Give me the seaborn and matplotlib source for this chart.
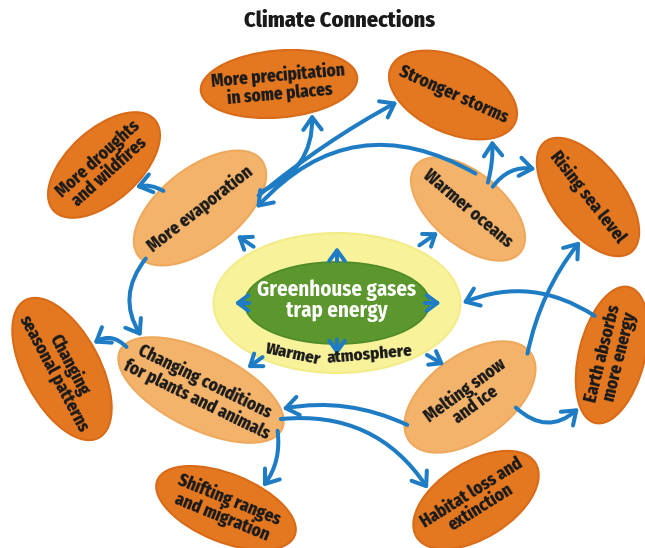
import numpy as np
import matplotlib
matplotlib.use("Agg")
import matplotlib.pyplot as plt
from matplotlib import font_manager as fm
from matplotlib.patches import Ellipse, FancyArrowPatch
import seaborn as sns

# ---- data: the boxes of the diagram and how they connect ----
title = "Climate Connections"
labels = [
    "More precipitation\nin some places",   # 0
    "Stronger storms",                      # 1
    "More droughts\nand wildfires",         # 2
    "More evaporation",                     # 3
    "Warmer oceans",                        # 4
    "Rising sea level",                     # 5
    "Greenhouse gases\ntrap energy",        # 6
    "Changing\nseasonal patterns",          # 7
    "Changing conditions\nfor plants and animals",  # 8
    "Melting snow\nand ice",                # 9
    "Earth absorbs\nmore energy",           # 10
    "Shifting ranges\nand migration",       # 11
    "Habitat loss and\nextinction",         # 12
]
sub_label = ["Warmer", "atmosphere"]
# which level each box is: effect, cause, core
level = ["effect", "effect", "effect", "cause", "cause", "effect", "core",
         "effect", "cause", "cause", "effect", "effect", "effect"]
# links: source, target
links_from = [3, 3, 4, 4, 4, 9, 10, 9, 9, 8, 8, 8, 3, 3]
links_to   = [0, 1, 3, 1, 5, 5, 6, 10, 8, 12, 11, 7, 8, 2]

# ---- layout (pixels, y down) ----
node_xy = [(279, 84), (453, 95), (104, 165), (200, 208), (468, 209), (588, 197),
           (337, 303), (62, 369), (201, 390), (470, 397), (612, 355),
           (226, 508), (476, 500)]
node_wh = [(157, 67), (136, 76), (136, 72), (156, 80), (136, 72), (140, 70),
           (247, 140), (156, 76), (180, 78), (150, 84), (140, 66),
           (148, 68), (140, 76)]
node_ang = [5, -24, 42, 38, -40, -52, 0, -62, -26, 36, 76, -22, 32]
core_wh = (185, 82)
# anchor directions (degrees, counter-clockwise) and bend of each link
link_phi_a = [15, 12, 78, 53, 42, 37, 114, -13, 204, -20, -28, 150, 223, 155]
link_phi_b = [-42, 187, 0, -49, 152, 260, 0, 238, -13, 167, 30, 39, 138, -35]
link_rad = [0.35, -0.05, 0.4, 0.08, -0.3, -0.12, 0.26, 0.45, 0.16, -0.3, -0.2, 0.4, 0.35, 0.2]
# small arrows leaving the core: direction, start/end as share of core radius
burst_phi = [90, 180, 0, 270, 146, 35, 216, -30]
burst_r0 = [0.60, 0.71, 0.71, 0.52, 1.05, 1.06, 0.98, 1.04]
burst_r1 = [0.80, 0.83, 0.84, 0.74, 1.26, 1.30, 1.18, 1.24]

fill = {"effect": "#e47820", "cause": "#f3b36b", "core": "#f8f29a"}
edge = {"effect": "#d96a18", "cause": "#eea95c", "core": "#f3ec88"}
blue = "#1e7cc4"
green = "#5b972d"

sns.set_theme(style="white")
# narrow bold faces like the original lettering, first one found wins
have = {f.name for f in fm.fontManager.ttflist}
wanted = ["Fira Sans Condensed", "Roboto Condensed", "PT Sans Narrow",
          "Archivo Narrow", "Liberation Sans Narrow", "Open Sans"]
narrow = [n for n in wanted if n in have][:1] or ["DejaVu Sans"]
plt.rcParams['font.family'] = narrow + ['DejaVu Sans']

fig = plt.figure(figsize=(6.45, 5.48), dpi=100)
ax = fig.add_axes([0, 0, 1, 1])
ax.set_xlim(0, 645)
ax.set_ylim(548, 0)
ax.set_aspect("equal")
ax.axis("off")


def rim(i, phi, pad=0.0, wh=None):
    x, y = node_xy[i]
    w, h = wh if wh else node_wh[i]
    a, b = w / 2, h / 2
    p = np.radians(phi)
    t = np.radians(phi - node_ang[i])
    r = 1 / np.sqrt((np.cos(t) / a) ** 2 + (np.sin(t) / b) ** 2) + pad
    return x + r * np.cos(p), y - r * np.sin(p)


def arrow(p0, p1, rad=0.0, scale=20):
    ax.add_patch(FancyArrowPatch(p0, p1, connectionstyle=f"arc3,rad={rad}",
                                 arrowstyle="->,head_length=0.45,head_width=0.33",
                                 mutation_scale=scale, lw=2.9, color=blue,
                                 shrinkA=0, shrinkB=0, capstyle="round",
                                 joinstyle="round", zorder=3))


# boxes
for i, lab in enumerate(labels):
    ax.add_patch(Ellipse(node_xy[i], *node_wh[i], angle=-node_ang[i],
                         facecolor=fill[level[i]], edgecolor=edge[level[i]],
                         lw=1.5, zorder=1))
    if level[i] == "core":
        ax.add_patch(Ellipse(node_xy[i], *core_wh, facecolor=green,
                             edgecolor="#4f8a26", lw=1.2, zorder=2))
        ax.text(node_xy[i][0], node_xy[i][1] - 2, lab, color="white", fontsize=15,
                weight="bold", ha="center", va="center", linespacing=0.95, zorder=4)
    else:
        ax.text(*node_xy[i], lab, rotation=node_ang[i], rotation_mode="anchor",
                ha="center", va="center", fontsize=12.4, weight="heavy",
                color="#1a1a1a", linespacing=0.98, zorder=4)

cx, cy = node_xy[6]
ax.text(cx - 44, cy + 51, sub_label[0], rotation=-12, rotation_mode="anchor",
        ha="center", va="center", fontsize=12.2, weight="heavy", color="#1a1a1a", zorder=4)
ax.text(cx + 33, cy + 51, sub_label[1], rotation=5, rotation_mode="anchor",
        ha="center", va="center", fontsize=12.2, weight="heavy", color="#1a1a1a", zorder=4)

# links between boxes
for s, t, pa, pb, rad in zip(links_from, links_to, link_phi_a, link_phi_b, link_rad):
    arrow(rim(s, pa, -3), rim(t, pb, 2), rad)

# small arrows out of the core
for phi, r0, r1 in zip(burst_phi, burst_r0, burst_r1):
    x0, y0 = rim(6, phi)
    arrow((cx + (x0 - cx) * r0, cy + (y0 - cy) * r0),
          (cx + (x0 - cx) * r1, cy + (y0 - cy) * r1), 0, scale=17)

ax.text(340, 21, title, ha="center", va="center", fontsize=16, weight="heavy",
        color="#1a1a1a")

fig.savefig("out.png", dpi=100)
